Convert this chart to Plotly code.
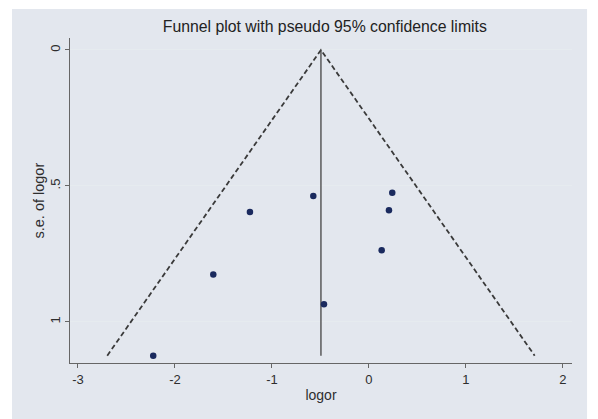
import plotly.graph_objects as go

# Study estimates
logor = [-2.224, -1.605, -1.227, -0.574, 0.240, 0.206, 0.131, -0.464]
se_logor = [1.124, 0.826, 0.596, 0.537, 0.525, 0.589, 0.736, 0.935]
pooled = -0.495

x_ticks = [-3, -2, -1, 0, 1, 2]
y_ticks = [0, 0.5, 1]
y_tick_labels = ["0", ".5", "1"]

se_max = max(se_logor)
font_family = "Liberation Sans, Arial, sans-serif"
dark = "#2e2e2e"

fig = go.Figure()

# pseudo 95% confidence limits
fig.add_trace(go.Scatter(
    x=[pooled - 1.96 * se_max, pooled, pooled + 1.96 * se_max],
    y=[se_max, 0, se_max],
    mode="lines",
    line=dict(color="#3a3a3a", width=1.8, dash="5px,3px"),
    hoverinfo="skip", showlegend=False))

# pooled estimate line
fig.add_trace(go.Scatter(
    x=[pooled, pooled], y=[0, se_max],
    mode="lines", line=dict(color="#444444", width=1.3),
    hoverinfo="skip", showlegend=False))

# studies
fig.add_trace(go.Scatter(
    x=logor, y=se_logor, mode="markers",
    marker=dict(color="#1a2a5e", size=6.5),
    showlegend=False))

fig.update_layout(
    width=590, height=411,
    margin=dict(l=62, r=26, t=30, b=56),
    paper_bgcolor="white",
    plot_bgcolor="white",
    font=dict(family=font_family, size=13, color=dark),
    title=dict(text="Funnel plot with pseudo 95% confidence limits",
               x=0.537, xanchor="center", y=0.954, yanchor="middle",
               font=dict(size=15.8, color="#222222")),
    shapes=[dict(type="rect", xref="paper", yref="paper",
                 x0=-0.1155, x1=1.03, y0=-0.2, y1=1.089,
                 fillcolor="#E3E7EE", line=dict(width=0), layer="below")],
    annotations=[dict(text="s.e. of logor", xref="paper", yref="paper",
                      x=0, y=0.5, xshift=-32, xanchor="center", yanchor="middle",
                      textangle=-90, showarrow=False,
                      font=dict(size=14.5, color=dark))],
)

fig.update_xaxes(
    range=[-3.082, 2.093],
    tickvals=x_ticks, ticktext=[str(t) for t in x_ticks],
    ticks="outside", ticklen=4, tickcolor="#666666",
    showline=True, linecolor="#666666", linewidth=1,
    showgrid=False, zeroline=False,
    title=dict(text="logor", standoff=4, font=dict(size=14)),
    tickfont=dict(size=13),
)
fig.update_yaxes(
    range=[1.151, -0.044],
    tickvals=y_ticks, ticktext=y_tick_labels, tickangle=-90,
    ticks="outside", ticklen=4, tickcolor="#666666",
    showline=True, linecolor="#666666", linewidth=1,
    showgrid=True, gridcolor="#E6EBEF", gridwidth=1, zeroline=False,
    tickfont=dict(size=13),
)

fig.write_html("out.html")
